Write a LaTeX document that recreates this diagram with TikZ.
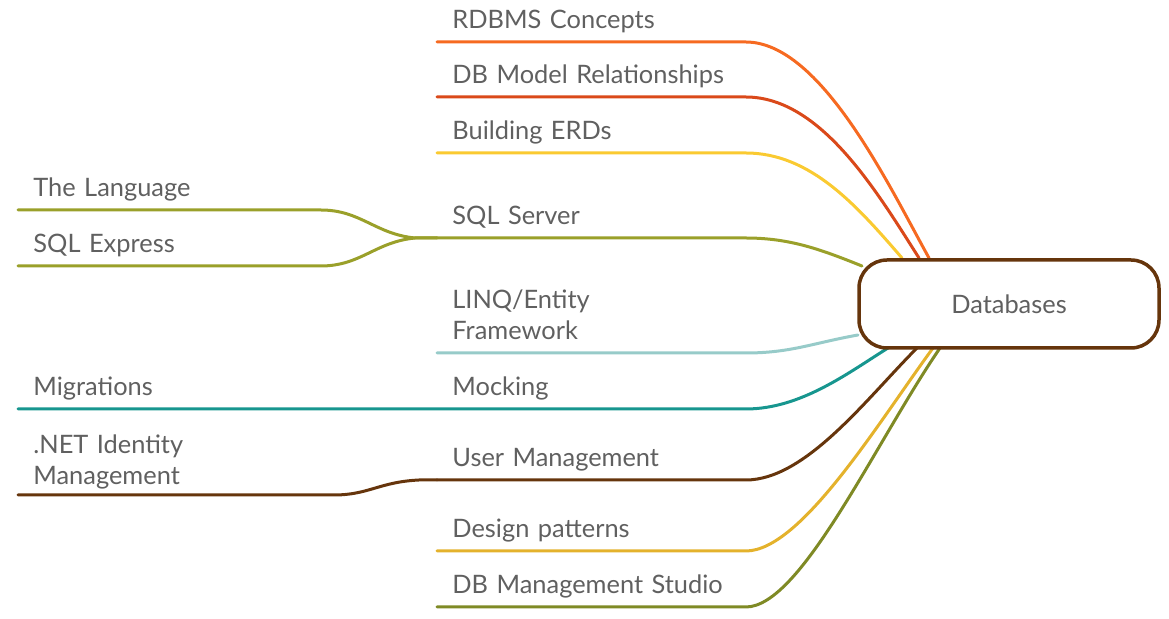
\documentclass[tikz,border=0pt]{standalone}
\usepackage{fontspec}
\setmainfont{Lato}
\usetikzlibrary{calc}

\definecolor{txtgray}{HTML}{606060}
\definecolor{dbbrown}{HTML}{66350C}
\definecolor{cRdbms}{HTML}{F66A21}
\definecolor{cModel}{HTML}{DA491A}
\definecolor{cErd}{HTML}{FACA31}
\definecolor{cSql}{HTML}{9AA02A}
\definecolor{cLinq}{HTML}{97CBC9}
\definecolor{cMock}{HTML}{17968F}
\definecolor{cUser}{HTML}{66350C}
\definecolor{cPattern}{HTML}{E4B22C}
\definecolor{cStudio}{HTML}{7F8A25}

\tikzset{
  topic/.style={anchor=south west, inner xsep=7.5pt, inner ysep=0pt, text depth=6.5pt,
    align=left, text width=#1, text=txtgray, font=\fontsize{12.7}{15.5}\selectfont},
  topic/.default=139pt,
  twolines/.style={text depth=22pt},
  branch/.style={draw=#1, line width=1.5pt, line cap=round},
  rootbox/.style={draw=dbbrown, line width=1.75pt, rounded corners=14pt, fill=white,
    minimum width=150pt, minimum height=44pt, text=txtgray, font=\fontsize{12.7}{15.5}\selectfont}
}

\begin{document}
\begin{tikzpicture}[x=0.5pt,y=-0.5pt]
\useasboundingbox (0,0) rectangle (1169,619);

\node[topic] (rdbms) at (437,42) {RDBMS Concepts};
\node[topic] (model) at (437,97) {DB Model Relationships};
\node[topic] (erds) at (437,153) {Building ERDs};
\node[topic] (sqlserver) at (437,238) {SQL Server};
\node[topic, twolines] (linq) at (437,353) {LINQ/Entity\\Framework};
\node[topic] (mocking) at (437,409) {Mocking};
\node[topic] (usermgmt) at (437,480) {User Management};
\node[topic] (patterns) at (437,551) {Design patterns};
\node[topic] (studio) at (437,607) {DB Management Studio};

\node[topic=136pt] (language) at (18,210) {The Language};
\node[topic=136pt] (express) at (18,266) {SQL Express};
\node[topic=194.5pt] (migrations) at (18,409) {Migrations};
\node[topic=142.5pt, twolines, text depth=20.5pt] (identity) at (18,495) {.NET Identity\\Management};

\draw[branch=cRdbms] (rdbms.south west) -- (rdbms.south east)
  .. controls +(75,0) and +(-40,-72) .. ($(1009,304)+(-80,-46)$);
\draw[branch=cModel] (model.south west) -- (model.south east)
  .. controls +(75,0) and +(-42,-66) .. ($(1009,304)+(-90,-46)$);
\draw[branch=cErd] (erds.south west) -- (erds.south east)
  .. controls +(65,0) and +(-45,-52) .. ($(1009,304)+(-107,-46)$);
\draw[branch=cSql] (sqlserver.south west) -- (sqlserver.south east)
  .. controls +(45,0) and +(-40,-16) .. ($(1009,304)+(-147,-38)$);
\draw[branch=cSql] (language.south west) -- (language.south east)
  .. controls +(40,0) and +(-40,-4) .. ($(sqlserver.south west)+(-22,0)$) -- (sqlserver.south west);
\draw[branch=cSql] (express.south west) -- (express.south east)
  .. controls +(40,0) and +(-40,4) .. ($(sqlserver.south west)+(-22,0)$) -- (sqlserver.south west);
\draw[branch=cLinq] (linq.south west) -- (linq.south east)
  .. controls +(45,0) and +(-45,8) .. ($(1009,304)+(-151,31)$);
\draw[branch=cMock] (migrations.south west) -- (mocking.south west) -- (mocking.south east)
  .. controls +(55,0) and +(-40,25) .. ($(1009,304)+(-121,44)$);
\draw[branch=cUser] (usermgmt.south west) -- (usermgmt.south east)
  .. controls +(60,0) and +(-50,50) .. ($(1009,304)+(-92,44)$);
\draw[branch=cUser] (identity.south west) -- (identity.south east)
  .. controls +(35,0) and +(-40,2) .. ($(usermgmt.south west)+(-18,0)$) -- (usermgmt.south west);
\draw[branch=cPattern] (patterns.south west) -- (patterns.south east)
  .. controls +(55,0) and +(-55,75) .. ($(1009,304)+(-76,44)$);
\draw[branch=cStudio] (studio.south west) -- (studio.south east)
  .. controls +(55,0) and +(-65,95) .. ($(1009,304)+(-69,44)$);

\node[rootbox] (db) at (1009,304) {Databases};
\end{tikzpicture}
\end{document}
